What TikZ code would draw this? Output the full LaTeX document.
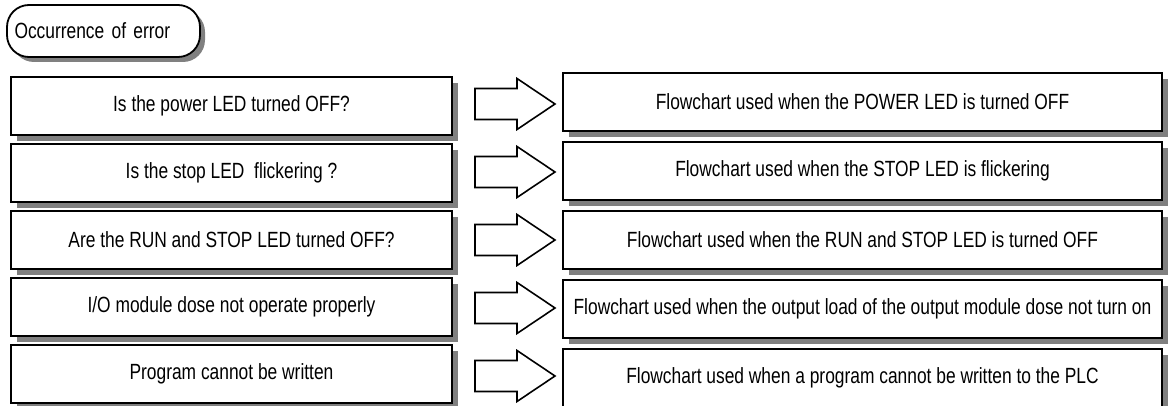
\documentclass[tikz,border=0pt]{standalone}
\usepackage{fontspec}
\setmainfont{Liberation Sans}[FakeStretch=0.79]
\usetikzlibrary{calc, shadows}
\definecolor{shadowgray}{RGB}{128,128,128}

\begin{document}
\begin{tikzpicture}[
    x=1pt, y=1pt,
    qbox/.style={draw, line width=1.8pt, fill=white, minimum width=441pt,
                 minimum height=58pt, align=center,
                 font=\fontsize{22}{26}\selectfont,
                 drop shadow={shadow xshift=6pt, shadow yshift=-6pt,
                              fill=shadowgray, opacity=1}},
    fbox/.style={qbox, minimum width=599pt},
    startbox/.style={draw, line width=1.8pt, fill=white, rounded corners=22pt,
                     text width=178pt, inner xsep=7.5pt, minimum height=52pt,
                     align=left, font=\fontsize{22}{26}\selectfont,
                     drop shadow={shadow xshift=5pt, shadow yshift=-5pt,
                                  fill=shadowgray, opacity=1}},
    blockarr/.style={draw, line width=1.6pt, fill=white, line join=miter}
  ]
    \useasboundingbox (0,0) rectangle (1168,-406);

    %% Start
    \node[startbox] (err) at (103.5,-31) {Occurrence of error};

    %% Questions
    \node[qbox] (q1) at (231.5,-106) {Is the power LED turned OFF?};
    \node[qbox] (q2) at (231.5,-173) {Is the stop LED\ \ flickering ?};
    \node[qbox] (q3) at (231.5,-240) {Are the RUN and STOP LED turned OFF?};
    \node[qbox] (q4) at (231.5,-307) {I/O module dose not operate properly};
    \node[qbox] (q5) at (231.5,-374) {Program cannot be written};

    %% Flowcharts
    \node[fbox] (f1) at (862.5,-102) {Flowchart used when the POWER LED is turned OFF};
    \node[fbox] (f2) at (862.5,-171) {Flowchart used when the STOP LED is flickering};
    \node[fbox] (f3) at (862.5,-240) {Flowchart used when the RUN and STOP LED is turned OFF};
    \node[fbox] (f4) at (862.5,-309) {Flowchart used when the output load of the output module dose not turn on};
    \node[fbox] (f5) at (862.5,-378) {Flowchart used when a program cannot be written to the PLC};

    %% Block arrows
    \foreach \i in {1,...,5} {
      \coordinate (m\i) at ($(q\i.east)!0.5!(f\i.west)$);
      \draw[blockarr] ($(m\i)+(-32.5,15.5)$) -- ($(m\i)+(9.5,15.5)$)
        -- ($(m\i)+(9.5,25.5)$) -- ($(m\i)+(47.5,0)$)
        -- ($(m\i)+(9.5,-25.5)$) -- ($(m\i)+(9.5,-15.5)$)
        -- ($(m\i)+(-32.5,-15.5)$) -- cycle;
    }
  \end{tikzpicture}
\end{document}
